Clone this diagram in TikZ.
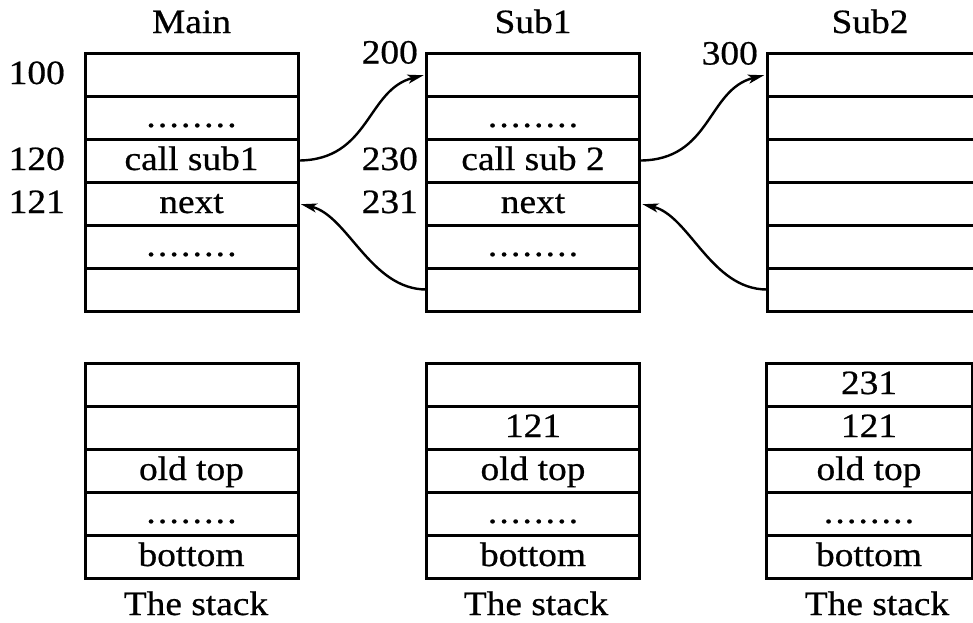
\documentclass[tikz,border=0pt]{standalone}
\usepackage{fontspec}
\setmainfont[FakeStretch=1.1,FakeBold=0.6]{Liberation Serif}
\usetikzlibrary{arrows.meta}

% spaced dots for the filler rows
\newcommand{\gapdots}{.\foreach \d in {1,...,7}{\kern2.2pt.}}

\tikzset{
	cell/.style={draw,line width=3pt,rectangle,minimum width=213pt,minimum height=43pt,
		inner sep=0pt,outer sep=0pt,text height=25pt,text depth=6pt},
	addr/.style={anchor=east,inner sep=0pt,text height=25pt,text depth=6pt},
	jump/.style={line width=2.4pt,shorten >=3pt,-{Stealth[length=16pt,width=9pt,inset=4pt]}}
}

\begin{document}
\begin{tikzpicture}[x=1pt,y=-1pt,font=\fontsize{34}{38}\selectfont]
	
	\useasboundingbox (0,0) rectangle (973,622);
	\clip (0,0) rectangle (973,622);
	
	\pgfmathsetmacro{\rowh}{43}
	\pgfmathsetmacro{\topy}{53}
	\pgfmathsetmacro{\boty}{363}
	
	% program memory of the three routines
	\foreach \txt [count=\i from 0] in {{},{\gapdots},{call sub1},{next},{\gapdots},{}}
		\node[cell] (main\i) at (191.5,{\topy+\rowh*(\i+0.5)}) {\txt};
	\foreach \txt [count=\i from 0] in {{},{\gapdots},{call sub 2},{next},{\gapdots},{}}
		\node[cell] (sub1row\i) at (533,{\topy+\rowh*(\i+0.5)}) {\txt};
	\foreach \i in {0,...,5}
		\node[cell] (sub2row\i) at (873.5,{\topy+\rowh*(\i+0.5)}) {};
	
	% the stacks below
	\foreach \txt [count=\i from 0] in {{},{},{old top},{\gapdots},{bottom}}
		\node[cell] (mainstk\i) at (191.5,{\boty+\rowh*(\i+0.5)}) {\txt};
	\foreach \txt [count=\i from 0] in {{},{121},{old top},{\gapdots},{bottom}}
		\node[cell] (sub1stk\i) at (533,{\boty+\rowh*(\i+0.5)}) {\txt};
	\foreach \txt [count=\i from 0] in {{231},{121},{old top},{\gapdots},{bottom}}
		\node[cell,minimum width=206pt] (sub2stk\i) at (869,{\boty+\rowh*(\i+0.5)}) {\txt};
	
	% titles
	\node[anchor=base] (maintitle) at (191.5,33) {Main};
	\node[anchor=base] (sub1title) at (533,33) {Sub1};
	\node[anchor=base] (sub2title) at (870,33) {Sub2};
	
	% addresses
	\node[addr] (a100) at (65,74.5)  {100};
	\node[addr] (a120) at (65,160.5) {120};
	\node[addr] (a121) at (65,203.5) {121};
	\node[addr] (a200) at (418,54)    {200};
	\node[addr] (a230) at (418,160.5) {230};
	\node[addr] (a231) at (418,203.5) {231};
	\node[addr] (a300) at (758,55)    {300};
	
	% stack captions
	\node[anchor=base] (mainstack) at (196,615) {The stack};
	\node[anchor=base] (sub1stack) at (536,615) {The stack};
	\node[anchor=base] (sub2stack) at (877,615) {The stack};
	
	% calls and returns
	\draw[jump] (main2.east) .. controls +(72,0) and +(-60,15) .. (sub1row0.west);
	\draw[jump] (sub1row5.west) .. controls +(-56,0) and +(50,12) .. (main3.east);
	\draw[jump] (sub1row2.east) .. controls +(72,0) and +(-60,15) .. (sub2row0.west);
	\draw[jump] (sub2row5.west) .. controls +(-56,0) and +(50,12) .. (sub1row3.east);
	
\end{tikzpicture}
\end{document}
